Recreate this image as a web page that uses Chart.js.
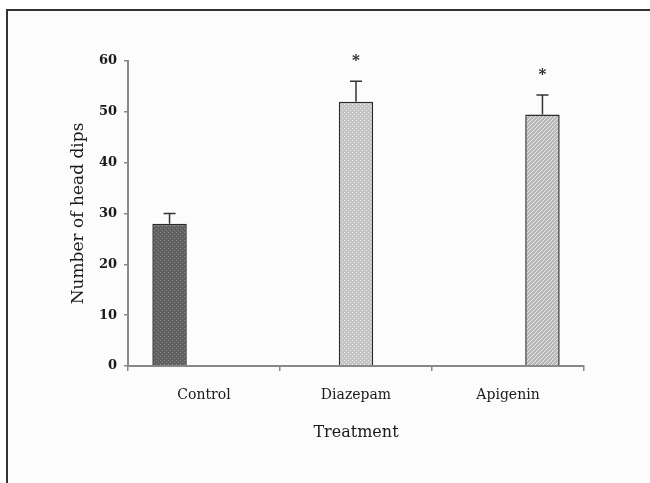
<!DOCTYPE html>
<html>
<head>
<meta charset="utf-8">
<script src="https://cdn.jsdelivr.net/npm/chart.js@4"></script>
<style>
  body { margin: 0; background: #fff; }
  canvas { display: block; }
</style>
</head>
<body>
<canvas id="chart-head-dips" width="650" height="483"></canvas>
<script>
// data
const treatments = ["Control", "Diazepam", "Apigenin"];
const controlValues = [28, null, null];
const diazepamValues = [null, 52, null];
const apigeninValues = [null, null, 49.5];
const errorValues = [2, 4, 3.8];
const significant = [false, true, true];
const yTicks = [0, 10, 20, 30, 40, 50, 60];

function makePattern(base, dot, kind) {
  const c = document.createElement("canvas");
  c.width = 4;
  c.height = 4;
  const g = c.getContext("2d");
  g.fillStyle = base;
  g.fillRect(0, 0, 4, 4);
  g.fillStyle = dot;
  if (kind === "dots") {
    g.fillRect(0, 0, 1, 1);
    g.fillRect(2, 2, 1, 1);
  } else {
    g.fillRect(0, 3, 1, 1);
    g.fillRect(1, 2, 1, 1);
    g.fillRect(2, 1, 1, 1);
    g.fillRect(3, 0, 1, 1);
  }
  return g.createPattern(c, "repeat");
}

const framePlugin = {
  id: "frame",
  beforeDraw(chart) {
    const ctx = chart.ctx;
    ctx.save();
    ctx.fillStyle = "#fcfcfc";
    ctx.fillRect(7, 10, chart.width - 7, chart.height - 10);
    ctx.strokeStyle = "#333";
    ctx.lineWidth = 2;
    ctx.beginPath();
    ctx.moveTo(7, chart.height);
    ctx.lineTo(7, 10);
    ctx.lineTo(chart.width, 10);
    ctx.stroke();
    ctx.restore();
  },
};

// upward error bars + asterisks
const errorPlugin = {
  id: "errorBars",
  afterDatasetsDraw(chart) {
    const ctx = chart.ctx;
    const y = chart.scales.y;
    ctx.save();
    ctx.strokeStyle = "#333";
    ctx.lineWidth = 1.5;
    chart.data.datasets.forEach((ds, di) => {
      const meta = chart.getDatasetMeta(di);
      ds.data.forEach((v, i) => {
        if (v == null) return;
        const x = meta.data[i].x;
        const top = y.getPixelForValue(v + errorValues[i]);
        const base = y.getPixelForValue(v);
        ctx.beginPath();
        ctx.moveTo(x, base);
        ctx.lineTo(x, top);
        ctx.moveTo(x - 6, top);
        ctx.lineTo(x + 6, top);
        ctx.stroke();
        if (significant[i]) {
          ctx.fillStyle = "#222";
          ctx.font = "bold 15px 'DejaVu Serif'";
          ctx.textAlign = "center";
          ctx.textBaseline = "middle";
          ctx.fillText("*", x, top - 20);
        }
      });
    });
    ctx.restore();
  },
};

const ctx = document.getElementById("chart-head-dips").getContext("2d");

new Chart(ctx, {
  type: "bar",
  data: {
    labels: treatments,
    datasets: [
      { label: "Control", data: controlValues, backgroundColor: makePattern("#606060", "#888", "dots") },
      { label: "Diazepam", data: diazepamValues, backgroundColor: makePattern("#c4c4c4", "#ececec", "dots") },
      { label: "Apigenin", data: apigeninValues, backgroundColor: makePattern("#b8b8b8", "#e6e6e6", "hatch") },
    ],
  },
  options: {
    responsive: false,
    animation: false,
    datasets: {
      bar: {
        categoryPercentage: 0.68,
        barPercentage: 1.0,
        borderColor: "#2a2a2a",
        borderWidth: 1.5,
        borderSkipped: "bottom",
      },
    },
    layout: { padding: { left: 60, right: 66, top: 61, bottom: 30 } },
    plugins: {
      legend: { display: false },
      tooltip: { enabled: false },
    },
    scales: {
      x: {
        afterFit: (s) => { s.height = 87; },
        grid: { drawOnChartArea: false, tickLength: 5, color: "#888", lineWidth: 1.5 },
        border: { color: "#888", width: 2 },
        ticks: { color: "#1a1a1a", padding: 16, font: { family: "DejaVu Serif", size: 14 } },
        title: {
          display: true,
          text: "Treatment",
          color: "#1a1a1a",
          padding: { top: 4, bottom: 11 },
          font: { family: "DejaVu Serif", size: 16 },
        },
      },
      y: {
        min: 0,
        max: 60,
        afterFit: (s) => { s.width = 68; },
        afterBuildTicks: (s) => { s.ticks = yTicks.map((v) => ({ value: v })); },
        grid: { drawOnChartArea: false, tickLength: 4, color: "#888", lineWidth: 1.5 },
        border: { color: "#888", width: 2 },
        ticks: { color: "#1a1a1a", padding: 7, font: { family: "DejaVu Serif", size: 13, weight: "bold" } },
        title: {
          display: true,
          text: "Number of head dips",
          color: "#1a1a1a",
          padding: { top: 8, bottom: 4 },
          font: { family: "DejaVu Serif", size: 17 },
        },
      },
    },
  },
  plugins: [framePlugin, errorPlugin],
});
</script>
</body>
</html>
